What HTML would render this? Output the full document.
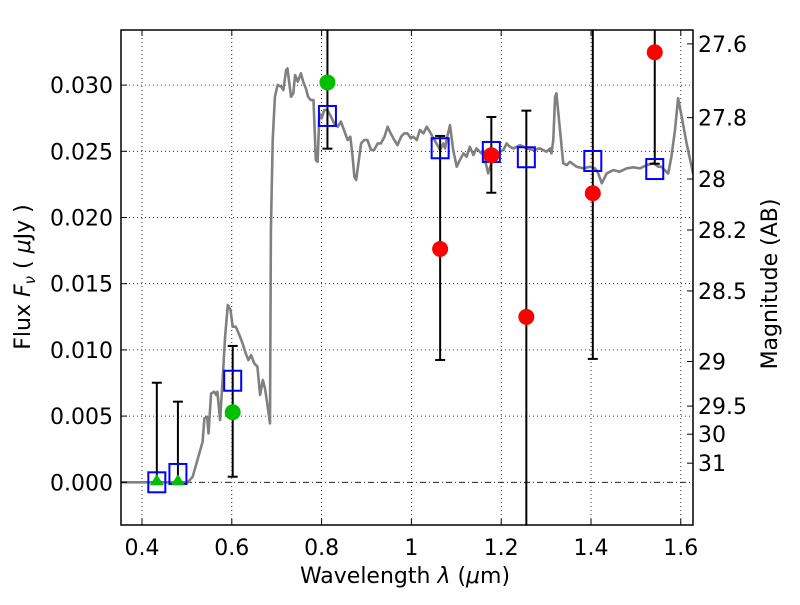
<!DOCTYPE html>
<html><head><meta charset="utf-8"><style>
body{margin:0;background:#fff}
svg text{font-family:"DejaVu Sans","Liberation Sans",sans-serif;fill:#000}
</style></head><body>
<svg id="chart" width="800" height="600" xmlns="http://www.w3.org/2000/svg">
<rect width="800" height="600" fill="#fff"/>
<g id="grid"></g>
<g id="plot"></g>
<g id="axes"></g>
</svg>
<script>
const xTicks=[0.4,0.6,0.8,1.0,1.2,1.4,1.6];
const xTickLabels=["0.4","0.6","0.8","1","1.2","1.4","1.6"];
const yTicks=[0,0.005,0.010,0.015,0.020,0.025,0.030];
const yTickLabels=["0.000","0.005","0.010","0.015","0.020","0.025","0.030"];
const magTicks=[27.6,27.8,28,28.2,28.5,29,29.5,30,31];
const magTickLabels=["27.6","27.8","28","28.2","28.5","29","29.5","30","31"];
const specLam=[0.353,0.502,0.513,0.535,0.539,0.545,0.548,0.554,0.561,0.565,0.568,0.574,0.580,0.585,0.591,0.597,0.602,0.609,0.617,0.624,0.631,0.637,0.643,0.650,0.657,0.663,0.669,0.674,0.680,0.685,0.687,0.691,0.696,0.702,0.710,0.715,0.721,0.724,0.728,0.732,0.737,0.741,0.747,0.754,0.759,0.765,0.770,0.776,0.782,0.787,0.791,0.795,0.800,0.806,0.813,0.821,0.828,0.836,0.843,0.850,0.858,0.864,0.869,0.873,0.877,0.882,0.888,0.895,0.902,0.910,0.917,0.925,0.932,0.940,0.947,0.954,0.962,0.969,0.977,0.984,0.991,0.999,1.004,1.012,1.019,1.027,1.034,1.041,1.049,1.056,1.064,1.071,1.075,1.079,1.086,1.093,1.101,1.108,1.116,1.123,1.130,1.138,1.145,1.156,1.160,1.164,1.171,1.179,1.190,1.197,1.205,1.212,1.219,1.227,1.242,1.257,1.271,1.286,1.301,1.309,1.312,1.316,1.320,1.323,1.331,1.338,1.346,1.353,1.368,1.383,1.398,1.409,1.412,1.416,1.424,1.435,1.450,1.464,1.479,1.494,1.509,1.524,1.539,1.550,1.557,1.564,1.572,1.579,1.587,1.594,1.602,1.613,1.628];
const specFlux=[0,0,0.00042,0.00306,0.00483,0.00495,0.00369,0.00671,0.00684,0.00659,0.00684,0.00470,0.00797,0.01100,0.01339,0.01301,0.01175,0.01175,0.01112,0.01049,0.00974,0.00923,0.00961,0.00898,0.00873,0.00659,0.00773,0.00709,0.00571,0.00445,0.01905,0.02585,0.02912,0.03001,0.02988,0.02963,0.03114,0.03126,0.03013,0.02912,0.02938,0.03076,0.03026,0.03089,0.03026,0.02975,0.02912,0.02887,0.02887,0.02434,0.02421,0.02787,0.02749,0.02812,0.02812,0.02761,0.02711,0.02686,0.02724,0.02661,0.02585,0.02610,0.02459,0.02308,0.02283,0.02409,0.02560,0.02585,0.02585,0.02510,0.02510,0.02560,0.02560,0.02610,0.02686,0.02635,0.02585,0.02547,0.02610,0.02635,0.02635,0.02598,0.02610,0.02585,0.02661,0.02635,0.02686,0.02648,0.02598,0.02560,0.02510,0.02560,0.02522,0.02598,0.02698,0.02510,0.02384,0.02434,0.02484,0.02459,0.02535,0.02472,0.02522,0.02484,0.02510,0.02434,0.02333,0.02421,0.02447,0.02497,0.02510,0.02560,0.02535,0.02522,0.02547,0.02522,0.02510,0.02522,0.02497,0.02522,0.02484,0.02585,0.02912,0.02938,0.02661,0.02409,0.02396,0.02421,0.02384,0.02371,0.02384,0.02371,0.02358,0.02333,0.02258,0.02333,0.02358,0.02346,0.02371,0.02379,0.02371,0.02396,0.02409,0.02384,0.02384,0.02358,0.02333,0.02459,0.02661,0.02900,0.02761,0.02560,0.02321,0.02313,0.02313];
const bandLam=[0.433,0.480,0.602,0.813,1.064,1.178,1.256,1.404,1.542];
const modelFlux=[0,0.00063,0.00767,0.02767,0.02523,0.02495,0.02455,0.02427,0.02366];
const obsFlux=[0,0,0.00529,0.0302,0.01762,0.0247,0.01249,0.02183,0.03248];
const errLow=[0,0,0.00042,0.0252,0.00924,0.02187,-0.0033,0.00932,0.02406];
const errHigh=[0.00752,0.00609,0.0103,0.0352,0.02616,0.02759,0.02807,0.0343,0.0409];
const markerType=["tri","tri","green","green","red","red","red","red","red"];

const L=121,R=693,T=30,B=525;
const X=v=>142+(v-0.4)*449;
const Y=v=>482.3-v*13240;
const NS="http://www.w3.org/2000/svg";
function mk(p,tag,a){const e=document.createElementNS(NS,tag);for(const k in a)e.setAttribute(k,a[k]);p.appendChild(e);return e;}
const grid=document.getElementById('grid'),plot=document.getElementById('plot'),axes=document.getElementById('axes');
const cp=mk(document.getElementById('chart'),'clipPath',{id:'clip'});
mk(cp,'rect',{x:L,y:T,width:R-L,height:B-T});
plot.setAttribute('clip-path','url(#clip)');
const FS=22;
xTicks.forEach((v,i)=>{
 const g=mk(grid,'line',{x1:X(v),x2:X(v),y1:T,y2:B,stroke:'#000','stroke-width':0.8,'stroke-dasharray':'1,3'});
 
 mk(axes,'line',{x1:X(v),x2:X(v),y1:B,y2:B-6,stroke:'#000','stroke-width':1});
 mk(axes,'line',{x1:X(v),x2:X(v),y1:T,y2:T+6,stroke:'#000','stroke-width':1});
 const t=mk(axes,'text',{x:X(v),y:B+30,'text-anchor':'middle','font-size':FS});t.textContent=xTickLabels[i];
 
});
yTicks.forEach((v,i)=>{
 if(v!==0){const g=mk(grid,'line',{x1:L,x2:R,y1:Y(v),y2:Y(v),stroke:'#000','stroke-width':0.8,'stroke-dasharray':'1,3'});
 }
 mk(axes,'line',{x1:L,x2:L+6,y1:Y(v),y2:Y(v),stroke:'#000','stroke-width':1});
 const t=mk(axes,'text',{x:L-8,y:Y(v)+8,'text-anchor':'end','font-size':FS});t.textContent=yTickLabels[i];
 
});
const zl=mk(grid,'line',{x1:L,x2:R,y1:Y(0),y2:Y(0),stroke:'#000','stroke-width':0.8,'stroke-dasharray':'6,3,1,3'});

magTicks.forEach((m,i)=>{
 const f=Math.pow(10,(23.9-m)/2.5);
 mk(axes,'line',{x1:R,x2:R-6,y1:Y(f),y2:Y(f),stroke:'#000','stroke-width':1});
 const t=mk(axes,'text',{x:R+5,y:Y(f)+8,'font-size':FS});t.textContent=magTickLabels[i];
 
});
let d='';specLam.forEach((l,i)=>{d+=(i?'L':'M')+X(l).toFixed(1)+','+Y(specFlux[i]).toFixed(1);});
const sp=mk(plot,'path',{d:d,fill:'none',stroke:'#808080','stroke-width':2.6,'stroke-linejoin':'round'});

bandLam.forEach((l,i)=>{
 const g=mk(plot,'g',{});
 
 mk(g,'line',{x1:X(l),x2:X(l),y1:Y(errLow[i]),y2:Y(errHigh[i]),stroke:'#000','stroke-width':2});
 [errLow[i],errHigh[i]].forEach(v=>mk(g,'line',{x1:X(l)-5,x2:X(l)+5,y1:Y(v),y2:Y(v),stroke:'#000','stroke-width':2}));
});
bandLam.forEach((l,i)=>{
 const s=mk(plot,'rect',{x:X(l)-8.5,y:Y(modelFlux[i])-10,width:17,height:20,fill:'none',stroke:'#0000ff','stroke-width':2});
 
});
bandLam.forEach((l,i)=>{
 const x=X(l),y=Y(obsFlux[i]);
 if(markerType[i]==='tri'){
  const p=mk(plot,'polygon',{points:`${x},${y-8} ${x-7},${y+3} ${x+7},${y+3}`,fill:'#00bf00'});
  
 }else{
  const c=mk(plot,'circle',{cx:x,cy:y,r:8,fill:markerType[i]==='green'?'#00bf00':'#ff0000'});
  
 }
});
const fr=mk(axes,'rect',{x:L,y:T,width:R-L,height:B-T,fill:'none',stroke:'#000','stroke-width':1.5});

const xl=mk(axes,'text',{x:405,y:583,'text-anchor':'middle','font-size':FS});
xl.innerHTML='Wavelength  <tspan font-style="italic">λ</tspan> (<tspan font-style="italic">μ</tspan>m)';

const yl=mk(axes,'text',{x:0,y:0,'text-anchor':'middle','font-size':FS,transform:'translate(30,277) rotate(-90)'});
yl.innerHTML='Flux  <tspan font-style="italic">F</tspan><tspan font-style="italic" font-size="15" dy="5">ν</tspan><tspan dy="-5">  ( </tspan><tspan font-style="italic">μ</tspan>Jy )';

const ml=mk(axes,'text',{x:0,y:0,'text-anchor':'middle','font-size':FS,transform:'translate(777,284) rotate(-90)'});
ml.textContent='Magnitude (AB)';

</script>
</body></html>
